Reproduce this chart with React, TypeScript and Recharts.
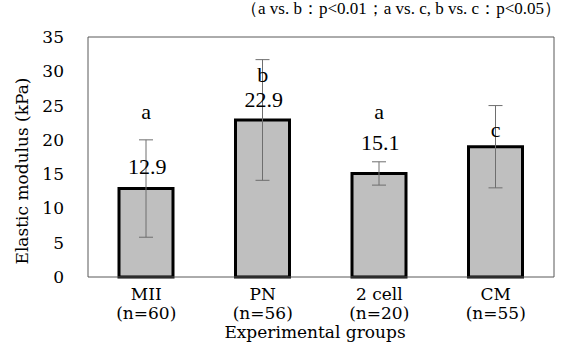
import React from "react";
import { ComposedChart, Bar, XAxis, YAxis, ErrorBar, Scatter, ReferenceLine } from "recharts";

const groups = ["MII", "PN", "2 cell", "CM"];
const sampleSizes = ["(n=60)", "(n=56)", "(n=20)", "(n=55)"];
const means = [12.9, 22.9, 15.1, 19.0];
const errors = [7.1, 8.8, 1.7, 6.0];
const meanLabels = ["12.9", "22.9", "15.1", ""];
const meanLabelLevels: (number | null)[] = [16.1, 25.9, 19.6, null];
const sigLetters = ["a", "b", "a", "c"];
const sigLetterLevels = [24.2, 29.6, 24.2, 21.5];
const yTicks = [0, 5, 10, 15, 20, 25, 30, 35];
const note = "（a vs. b：p<0.01；a vs. c, b vs. c：p<0.05）";
const yTitle = "Elastic modulus (kPa)";
const xTitle = "Experimental groups";

const data = groups.map((g, i) => ({
  group: g,
  n: sampleSizes[i],
  mean: means[i],
  err: errors[i],
  meanLabel: meanLabels[i],
  meanLevel: meanLabelLevels[i],
  letter: sigLetters[i],
  letterLevel: sigLetterLevels[i],
}));

const SERIF = "'DejaVu Serif', serif";
const TIMES = "'Liberation Serif', serif";
const FRAME = "#595959";

const XTick = (props: any) => {
  const { x, y, payload } = props;
  const idx = payload.index ?? groups.indexOf(payload.value);
  return (
    <g>
      <text x={x} y={y + 23} textAnchor="middle" fontSize={17} fill="#000" fontFamily={SERIF}>
        {payload.value}
      </text>
      <text x={x} y={y + 42} textAnchor="middle" fontSize={17} fill="#000" fontFamily={SERIF}>
        {sampleSizes[idx]}
      </text>
    </g>
  );
};

const YTitle = () => (
  <text
    x={22}
    y={171}
    transform="rotate(-90 22 171)"
    textAnchor="middle"
    dominantBaseline="central"
    fontSize={17}
    fill="#000"
    fontFamily={SERIF}
  >
    {yTitle}
  </text>
);

const XTitle = () => (
  <text x={315} y={338} textAnchor="middle" fontSize={17} fill="#000" fontFamily={SERIF}>
    {xTitle}
  </text>
);

const MeanLabelShape = (props: any) => {
  const { cx, cy, payload } = props;
  if (cx == null || cy == null || !payload || !payload.meanLabel) return <g />;
  return (
    <text x={cx + 1} y={cy} textAnchor="middle" dominantBaseline="central" fontSize={22} fill="#000" fontFamily={TIMES}>
      {payload.meanLabel}
    </text>
  );
};

const LetterShape = (props: any) => {
  const { cx, cy, payload } = props;
  if (cx == null || cy == null || !payload) return <g />;
  return (
    <text x={cx} y={cy} textAnchor="middle" dominantBaseline="central" fontSize={22} fill="#000" fontFamily={TIMES}>
      {payload.letter}
    </text>
  );
};

export default function App() {
  return (
    <div style={{ position: "absolute", left: 0, top: 0, width: 564, height: 345, background: "#fff", fontFamily: SERIF }}>
      <div
        style={{
          position: "absolute",
          right: 3,
          top: -1,
          fontSize: 17,
          lineHeight: "20px",
          fontFamily: TIMES,
          whiteSpace: "nowrap",
          color: "#000",
        }}
      >
        {note}
      </div>
      <ComposedChart
        width={564}
        height={345}
        data={data}
        margin={{ top: 37, right: 9, bottom: 0, left: 0 }}
      >
        <XAxis
          dataKey="group"
          height={68}
          tickLine={false}
          tickSize={0}
          tickMargin={0}
          axisLine={{ stroke: FRAME, strokeWidth: 1 }}
          tick={<XTick />}
          interval={0}
          label={<XTitle />}
        />
        <YAxis
          domain={[0, 35]}
          ticks={yTicks}
          width={88}
          tickLine={false}
          tickSize={0}
          tickMargin={24}
          interval={0}
          axisLine={{ stroke: FRAME, strokeWidth: 1 }}
          tick={{ fontSize: 17, fill: "#000", fontFamily: SERIF }}
          label={<YTitle />}
        />
        <YAxis
          yAxisId="right"
          orientation="right"
          width={1}
          domain={[0, 35]}
          tick={false}
          tickLine={false}
          axisLine={{ stroke: FRAME, strokeWidth: 1 }}
        />
        <ReferenceLine y={35} stroke={FRAME} strokeWidth={1} />
        <Bar
          dataKey="mean"
          fill="#bfbfbf"
          stroke="#000"
          strokeWidth={3}
          barSize={54}
          isAnimationActive={false}
        >
          <ErrorBar dataKey="err" width={7} stroke="#6e6e6e" strokeWidth={1} />
        </Bar>
        <Scatter dataKey="meanLevel" shape={<MeanLabelShape />} isAnimationActive={false} />
        <Scatter dataKey="letterLevel" shape={<LetterShape />} isAnimationActive={false} />
      </ComposedChart>
    </div>
  );
}
